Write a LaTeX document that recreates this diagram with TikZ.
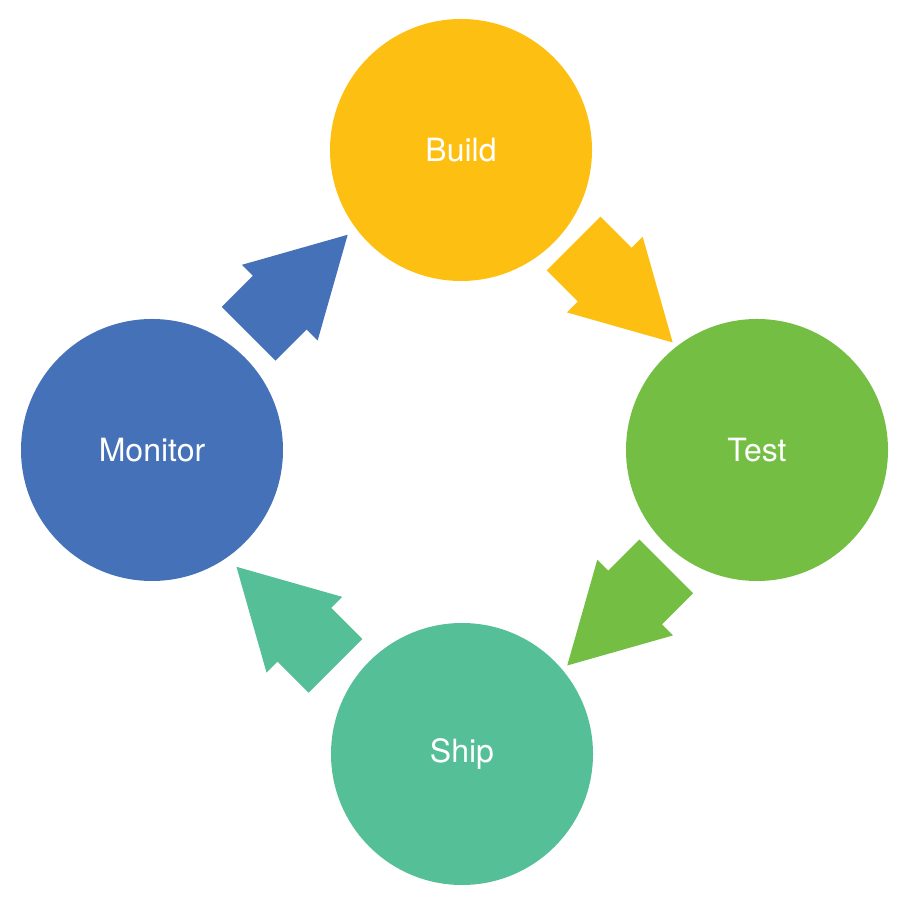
\documentclass[tikz,border=0pt]{standalone}
\usepackage{fontspec}
\setmainfont{TeX Gyre Heros}
\usetikzlibrary{calc}

\definecolor{buildcol}{HTML}{FDC012}
\definecolor{testcol}{HTML}{74BE44}
\definecolor{shipcol}{HTML}{55BF98}
\definecolor{monitorcol}{HTML}{4571B8}

\begin{document}
\begin{tikzpicture}
  [x=1pt,y=1pt,stage/.style={circle,minimum size=262pt,inner sep=0pt,text=white,font=\fontsize{32}{38}\selectfont}]
  \useasboundingbox (0,0) rectangle (909,909);

  \node[stage,fill=buildcol] (build) at (461,759) {Build};
  \node[stage,fill=testcol] (test) at (757,459) {Test};
  \node[stage,fill=shipcol] (ship) at (462,155) {Ship};
  \node[stage,fill=monitorcol] (monitor) at (152,459) {Monitor};

  % block arrows between the stages
  \foreach \from/\to/\ang/\out/\col in {build/test/-45/15/buildcol,test/ship/-135/15/testcol,ship/monitor/135/25/shipcol,monitor/build/45/17/monitorcol}
  {
    \coordinate (mid) at ($(\from)!.5!(\to)$);
    \begin{scope}[shift={($(mid)!\out pt!90:(\to)$)},rotate=\ang]
      \fill[\col] (-65,-38) -- (-21,-38) -- (-21,-53.5) -- (75,0) -- (-21,53.5) -- (-21,38) -- (-65,38) -- cycle;
    \end{scope}
  }

\end{tikzpicture}
\end{document}
